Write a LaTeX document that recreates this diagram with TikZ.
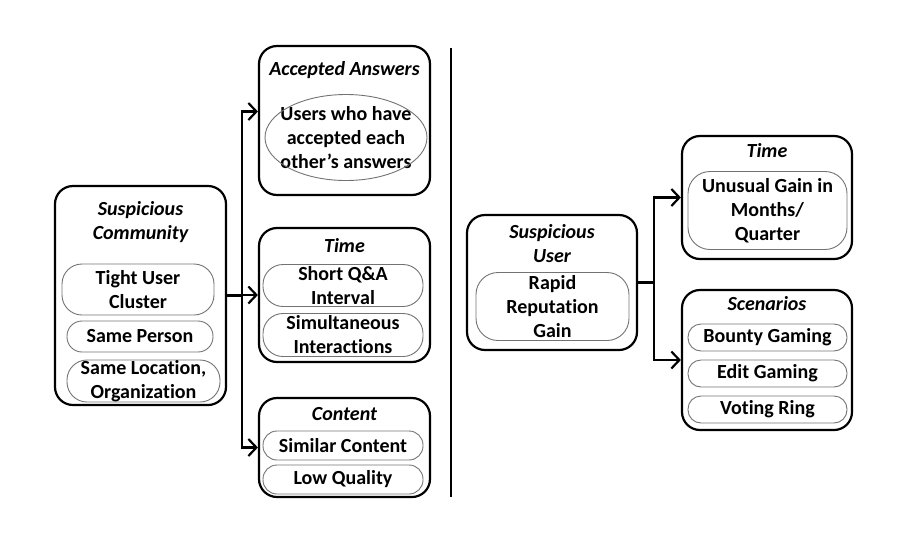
\documentclass[tikz,border=0pt]{standalone}
\usepackage{fontspec}
\setmainfont{Carlito}[Ligatures=NoCommon]
\usetikzlibrary{arrows.meta}

\begin{document}
\begin{tikzpicture}[x=1pt,y=-1pt,font=\fontsize{20}{24}\selectfont\bfseries,
grp/.style n args={2}{draw,line width=2.2pt,rounded corners=18pt,minimum width=#1,minimum height=#2,inner sep=0pt},
ttl/.style={font=\fontsize{20}{24}\selectfont\bfseries\itshape,align=center,inner sep=0pt},
itm/.style n args={3}{draw=black!55,line width=0.9pt,rounded corners=#3,minimum width=#1,minimum height=#2,align=center,inner sep=0pt},
lnk/.style={line width=2.2pt},
arr/.style={line width=2.2pt,-{Straight Barb[length=8pt,width=17pt]}}]
\useasboundingbox (0,0) rectangle (903,547);
% left half
\node[grp={171pt}{219pt}](comm) at(140.5,295.5) {};
\node[ttl](commttl) at(140.5,222.5) {Suspicious\\Community};
\node[itm={152pt}{51pt}{20pt}](tuc) at(138,289.5) {Tight User\\Cluster};
\node[itm={146pt}{31pt}{15pt}](sp) at(140,336.5) {Same Person};
\node[itm={153pt}{42pt}{20pt}](slo) at(143.5,381) {Same Location,\\Organization};
\node[grp={171pt}{149pt}](acc) at(344.5,120.5) {};
\node[ttl](accttl) at(344.5,70.5) {Accepted Answers};
\node[align=center,inner sep=0pt](usr1) at(346,137.5) {Users who have\\accepted each\\other’s answers};
\draw[draw=black!55,line width=0.9pt] (usr1.center) ellipse [x radius=81,y radius=43];
\node[grp={171pt}{134pt}](tim) at(344.5,295) {};
\node[ttl](timttl) at(344.5,245.5) {Time};
\node[itm={160pt}{42pt}{20pt}](sqa) at(343,285.5) {Short Q\&A\\Interval};
\node[itm={160pt}{43pt}{20pt}](sim) at(343,335) {Simultaneous\\Interactions};
\node[grp={171pt}{99pt}](con) at(344.5,447.5) {};
\node[ttl](conttl) at(344.5,414.5) {Content};
\node[itm={160pt}{29pt}{14pt}](simc) at(343,445.5) {Similar Content};
\node[itm={160pt}{29pt}{14pt}](lowq) at(343,479.5) {Low Quality};
\coordinate (jL) at ([xshift=15pt]comm.east);
\draw[lnk] (comm.east) -- (jL);
\draw[arr] (jL) |- ([yshift=9pt]acc.west);
\draw[arr] (jL) |- (tim.west);
\draw[arr] (jL) |- (con.west);
% divider
\coordinate (divtop) at (451,48);
\coordinate (divbot) at (451,497);
\draw[line width=2pt] (divtop) -- (divbot);
% right half
\node[grp={170pt}{135pt}](usr) at(552,282.5) {};
\node[ttl](usrttl) at(552,243.5) {Suspicious\\User};
\node[itm={153pt}{68pt}{22pt}](rrg) at(552.5,306.5) {Rapid\\Reputation\\Gain};
\node[grp={170pt}{123pt}](tim2) at(767,197.5) {};
\node[ttl](tim2ttl) at(767,150.5) {Time};
\node[itm={159pt}{78pt}{22pt}](ugm) at(767.5,210.5) {Unusual Gain in\\Months/\\Quarter};
\node[grp={170pt}{140pt}](scn) at(767,360) {};
\node[ttl](scnttl) at(767,303.5) {Scenarios};
\node[itm={159pt}{27pt}{13pt}](bnt) at(767.5,337.5) {Bounty Gaming};
\node[itm={159pt}{27pt}{13pt}](edt) at(767.5,373.5) {Edit Gaming};
\node[itm={159pt}{27pt}{13pt}](vot) at(767.5,409.5) {Voting Ring};
\coordinate (jR) at ([xshift=16pt]usr.east);
\draw[lnk] (usr.east) -- (jR);
\draw[arr] (jR) |- (tim2.west);
\draw[arr] (jR) |- (scn.west);
\end{tikzpicture}
\end{document}
